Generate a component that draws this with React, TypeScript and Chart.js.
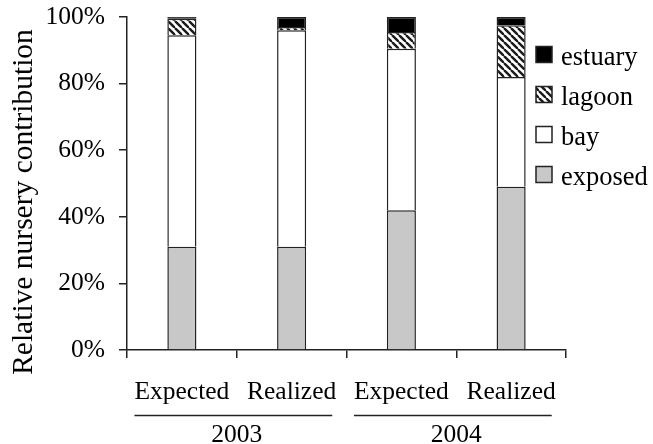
import React, { useEffect, useRef } from "react";
import { Chart, registerables } from "chart.js";

Chart.register(...registerables);

// Category labels along the x axis and the year that groups each pair
const categories = ["Expected", "Realized", "Expected", "Realized"];
const years = ["2003", "2004"];

// Percent contribution per nursery habitat (stacked bottom to top)
const exposed = [31, 31, 42, 49];
const bay = [63.5, 65, 48.5, 33];
const lagoon = [5, 1, 5, 15.5];
const estuary = [0.5, 3, 4.5, 2.5];

const yTicks = [0, 20, 40, 60, 80, 100];

const FONT = '"Liberation Serif", "Times New Roman", serif';
const INK = "#222";

function hatchPattern(): CanvasPattern | string {
  const s = 7;
  const c = document.createElement("canvas");
  c.width = s;
  c.height = s;
  const g = c.getContext("2d");
  if (!g) return "#888";
  g.fillStyle = "#fff";
  g.fillRect(0, 0, s, s);
  g.strokeStyle = "#1a1a1a";
  g.lineWidth = 2.4;
  for (const k of [-s, 0, s]) {
    g.beginPath();
    g.moveTo(k, 0);
    g.lineTo(k + s, s);
    g.stroke();
  }
  const p = g.createPattern(c, "repeat");
  return p || "#888";
}

export default function App() {
  const ref = useRef<HTMLCanvasElement | null>(null);

  useEffect(() => {
    const canvas = ref.current;
    if (!canvas) return;
    const hatch = hatchPattern();

    const series = [
      { label: "exposed", data: exposed, fill: "#c8c8c8" as any },
      { label: "bay", data: bay, fill: "#ffffff" as any },
      { label: "lagoon", data: lagoon, fill: hatch as any },
      { label: "estuary", data: estuary, fill: "#000000" as any },
    ];

    const decorations = {
      id: "decorations",
      afterDraw(chart: any) {
        const { ctx, scales } = chart;
        const x = scales.x;
        ctx.save();
        ctx.fillStyle = "#000";

        // y axis title
        ctx.save();
        ctx.translate(32, 202);
        ctx.rotate(-Math.PI / 2);
        ctx.font = `29.5px ${FONT}`;
        ctx.textAlign = "center";
        ctx.textBaseline = "alphabetic";
        ctx.fillText("Relative nursery contribution", 0, 0);
        ctx.restore();

        // year group rules and labels
        ctx.font = `25.5px ${FONT}`;
        ctx.strokeStyle = INK;
        ctx.lineWidth = 1.5;
        years.forEach((yr, gi) => {
          const i0 = gi * 2;
          const i1 = gi * 2 + 1;
          const c0 = x.getPixelForValue(i0);
          const c1 = x.getPixelForValue(i1);
          const left = c0 - ctx.measureText(categories[i0]).width / 2;
          const right = c1 + ctx.measureText(categories[i1]).width / 2 - 4;
          ctx.beginPath();
          ctx.moveTo(left, 415.5);
          ctx.lineTo(right, 415.5);
          ctx.stroke();
          ctx.textAlign = "center";
          ctx.textBaseline = "alphabetic";
          ctx.fillText(yr, (c0 + c1) / 2, 442);
        });

        // legend, top entry first
        const items = [...series].reverse();
        const bx = 536;
        const size = 16;
        items.forEach((it, i) => {
          const cy = 54.5 + i * 40;
          ctx.fillStyle = it.fill;
          ctx.fillRect(bx, cy - size / 2, size, size);
          ctx.strokeStyle = INK;
          ctx.lineWidth = 1.5;
          ctx.strokeRect(bx, cy - size / 2, size, size);
          ctx.fillStyle = "#000";
          ctx.font = `26.5px ${FONT}`;
          ctx.textAlign = "left";
          ctx.textBaseline = "alphabetic";
          ctx.fillText(it.label, 561, cy + 10);
        });
        ctx.restore();
      },
    };

    const chart = new Chart(canvas, {
      type: "bar",
      data: {
        labels: categories,
        datasets: series.map((s) => ({
          label: s.label,
          data: s.data,
          backgroundColor: s.fill,
          borderColor: INK,
          borderWidth: 1.5,
          borderSkipped: "bottom",
          barPercentage: 0.265,
          categoryPercentage: 1,
        })),
      },
      options: {
        responsive: false,
        animation: false,
        layout: { padding: { top: 17, right: 87, left: 0, bottom: 0 } },
        plugins: {
          legend: { display: false },
          tooltip: { enabled: false },
        },
        scales: {
          x: {
            stacked: true,
            offset: true,
            grid: {
              offset: true,
              drawOnChartArea: false,
              drawTicks: true,
              tickLength: 8,
              color: INK,
              lineWidth: 1.5,
            },
            border: { display: true, color: INK, width: 1.5 },
            ticks: {
              color: "#000",
              padding: 19,
              font: { family: FONT, size: 25.5 },
              maxRotation: 0,
            },
            afterFit: (s: any) => {
              s.height = 94;
              s.paddingLeft = 0;
              s.paddingRight = 0;
            },
          },
          y: {
            stacked: true,
            min: 0,
            max: 100,
            afterBuildTicks: (s: any) => {
              s.ticks = yTicks.map((v) => ({ value: v }));
            },
            grid: {
              drawOnChartArea: false,
              drawTicks: true,
              tickLength: 8,
              color: INK,
              lineWidth: 1.5,
            },
            border: { display: true, color: INK, width: 1.5 },
            ticks: {
              color: "#000",
              padding: 14,
              font: { family: FONT, size: 25.5 },
              callback: (v: any) => `${v}%`,
            },
            afterFit: (s: any) => {
              s.width = 127;
              s.paddingTop = 0;
              s.paddingBottom = 0;
            },
          },
        },
      },
      plugins: [decorations],
    });

    return () => chart.destroy();
  }, []);

  return (
    <div style={{ position: "fixed", left: 0, top: 0, width: 653, height: 444, background: "#fff" }}>
      <canvas ref={ref} width={653} height={444} style={{ display: "block" }} />
    </div>
  );
}
